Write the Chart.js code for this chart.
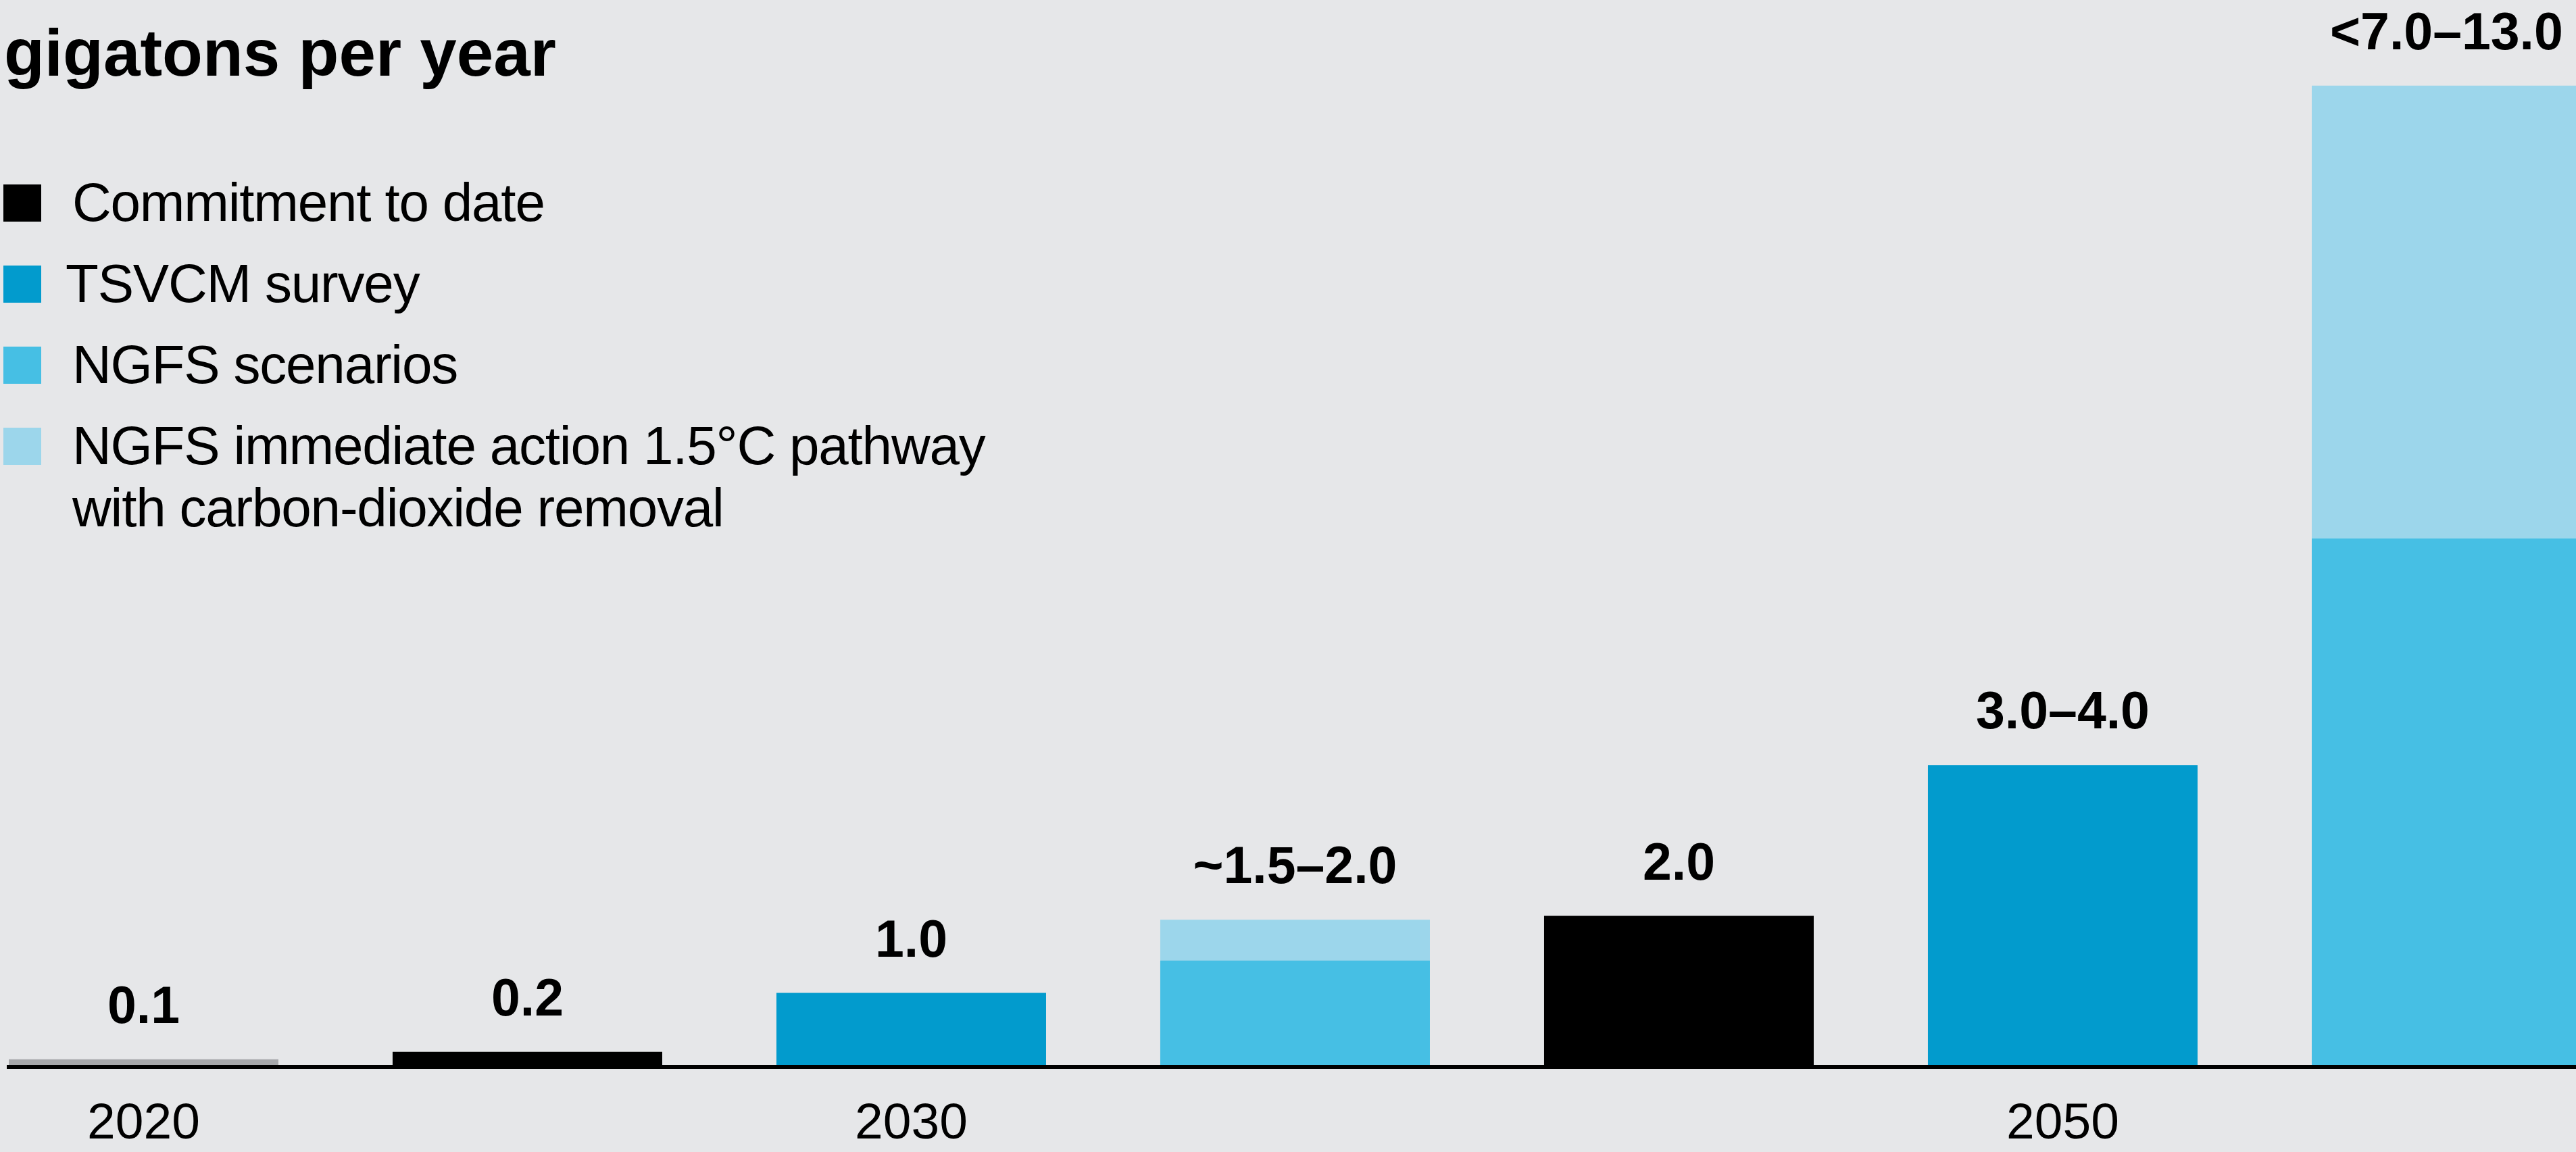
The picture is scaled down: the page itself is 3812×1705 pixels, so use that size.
<!DOCTYPE html>
<html>
<head>
<meta charset="utf-8">
<script src="https://cdn.jsdelivr.net/npm/chart.js@4.4.1/dist/chart.umd.min.js"></script>
<style>
  body { margin: 0; background: #e6e7e9; overflow: hidden; }
  #wrap { position: relative; width: 3812px; height: 1705px; }
  #title { position: absolute; left: 6px; top: 29px; font: bold 98px/98px "Liberation Sans", Arial, sans-serif; color: #000; white-space: nowrap; }
  .item { position: absolute; left: 0; font: 80px/92px "Liberation Sans", Arial, sans-serif; color: #000; letter-spacing: -1.2px; }
  .sw { position: absolute; left: 5px; top: 19px; width: 56px; height: 55px; }
  .txt { position: absolute; left: 104px; top: 0; white-space: nowrap; }
</style>
</head>
<body>
<div id="wrap">
  <canvas id="chart"></canvas>
  <div id="title">gigatons per year</div>
  <div id="legend"></div>
</div>
<script>
// x positions 0..6, one bar each
const tickLabels = ['2020', '', '2030', '', '', '2050', ''];
const actual2020 = [0.1, null, null, null, null, null, null];
const commitment = [null, 0.2, null, null, 2.0, null, null];
const tsvcm = [null, null, 0.98, null, null, 4.0, null];
const ngfs = [null, null, null, 1.41, null, null, 7.0];
const ngfsCdr = [null, null, null, 0.54, null, null, 6.0];
const valueLabels = ['0.1', '0.2', '1.0', '~1.5–2.0', '2.0', '3.0–4.0', '<7.0–13.0'];

const legendLabels = ['Commitment to date', 'TSVCM survey', 'NGFS scenarios',
    'NGFS immediate action 1.5°C pathway<br>with carbon-dioxide removal'];
const legendColors = ['#000000', '#029bcd', '#46bfe4', '#9cd6eb'];

function toPoints(arr) {
    return arr.map((v, i) => ({x: i, y: v})).filter(p => p.y !== null);
}

function build_legend() {
    const box = document.getElementById('legend');
    legendLabels.forEach((label, i) => {
        const item = document.createElement('div');
        item.className = 'item';
        item.style.top = (254 + i * 120) + 'px';
        const left = i === 1 ? 97 : 107;
        item.innerHTML = `<div class="sw" style="background:${legendColors[i]}"></div>` +
            `<div class="txt" style="left:${left}px">${label}</div>`;
        box.appendChild(item);
    });
}

// value text above each stack
const barLabels = {
    id: 'barLabels',
    afterDatasetsDraw(chart) {
        const ctx = chart.ctx;
        ctx.save();
        ctx.font = 'bold 77px "Liberation Sans", Arial, sans-serif';
        ctx.fillStyle = '#000';
        ctx.textAlign = 'center';
        ctx.textBaseline = 'alphabetic';
        valueLabels.forEach((text, i) => {
            let top = Infinity, x = null;
            chart.data.datasets.forEach((ds, d) => {
                const meta = chart.getDatasetMeta(d);
                meta.data.forEach((el, j) => {
                    if (ds.data[j].x === i) {
                        top = Math.min(top, el.y);
                        x = el.x;
                    }
                });
            });
            if (x !== null) ctx.fillText(text, x, top - 54);
        });
        ctx.restore();
    }
};

document.addEventListener("DOMContentLoaded", function() {
    build_legend();
    const ctx = document.getElementById('chart');
    ctx.width = 3812;
    ctx.height = 1705;

    new Chart(ctx, {
        type: 'bar',
        plugins: [barLabels],
        data: {
            datasets: [
                {label: '2020', data: toPoints(actual2020), backgroundColor: '#a7a8ab'},
                {label: 'Commitment to date', data: toPoints(commitment), backgroundColor: legendColors[0]},
                {label: 'TSVCM survey', data: toPoints(tsvcm), backgroundColor: legendColors[1]},
                {label: 'NGFS scenarios', data: toPoints(ngfs), backgroundColor: legendColors[2]},
                {label: 'NGFS immediate action 1.5°C pathway with carbon-dioxide removal', data: toPoints(ngfsCdr), backgroundColor: legendColors[3]},
            ]
        },
        options: {
            responsive: false,
            animation: false,
            devicePixelRatio: 1,
            layout: {
                padding: {top: 15, left: 13, right: 0, bottom: 0}
            },
            datasets: {
                bar: {
                    barPercentage: 0.7025,
                    categoryPercentage: 1,
                    borderWidth: 0
                }
            },
            plugins: {
                legend: {display: false},
                tooltip: {enabled: false}
            },
            scales: {
                x: {
                    type: 'linear',
                    stacked: true,
                    offset: false,
                    min: -0.3512,
                    max: 6.3372,
                    grid: {display: false, drawTicks: false, offset: false},
                    border: {display: true, color: '#000', width: 6, z: 1},
                    afterBuildTicks: function(scale) {
                        scale.ticks = tickLabels.map((t, i) => ({value: i})).filter(t => tickLabels[t.value] !== '');
                    },
                    afterFit: function(scale) {
                        scale.height = 126;
                    },
                    ticks: {
                        padding: 44,
                        maxRotation: 0,
                        autoSkip: false,
                        color: '#000',
                        font: {family: '"Liberation Sans", Arial, sans-serif', size: 75, lineHeight: 1.09},
                        callback: function(value) {
                            return tickLabels[value];
                        }
                    }
                },
                y: {
                    display: false,
                    stacked: true,
                    min: 0,
                    max: 14
                }
            }
        }
    });
});
</script>
</body>
</html>
